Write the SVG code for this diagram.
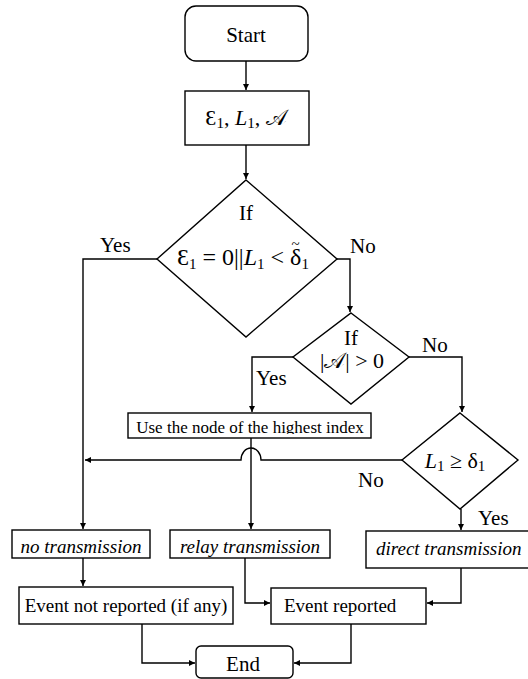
<svg xmlns="http://www.w3.org/2000/svg" width="528" height="679" viewBox="0 0 528 679">
<style>
.box{fill:#fff;stroke:#000;stroke-width:1.4}
.ln{fill:none;stroke:#000;stroke-width:1.4}
.t{font-family:"Liberation Serif","Times New Roman",serif;font-size:19px;fill:#000}
.lb{font-family:"Liberation Serif","Times New Roman",serif;font-size:21px;fill:#000}
.i{font-style:italic}
.m{font-family:"Liberation Serif","DejaVu Serif",serif;font-size:22px;fill:#000}
.mb{font-size:24px}
.s{font-size:15px}
</style>
<defs>
<marker id="ah" markerWidth="7" markerHeight="7" refX="6" refY="3" orient="auto" markerUnits="userSpaceOnUse">
<path d="M0,0 L6,3 L0,6 z" fill="#000"/>
</marker>
<clipPath id="clipUse"><rect x="128" y="413" width="243" height="21"/></clipPath>
</defs>

<g id="connectors">
<path class="ln" d="M246,61 V90" marker-end="url(#ah)"/>
<path class="ln" d="M246,145 V179" marker-end="url(#ah)"/>
<path class="ln" d="M157,259 H83 V529" marker-end="url(#ah)"/>
<path class="ln" d="M337,259 H350 V312" marker-end="url(#ah)"/>
<path class="ln" d="M409,357 H462 V412" marker-end="url(#ah)"/>
<path class="ln" d="M293,357 H252 V412" marker-end="url(#ah)"/>
<path class="ln" d="M251,438 V529" marker-end="url(#ah)"/>
<path class="ln" d="M402,460 H261 A10,12 0 0 0 241,460 H85" marker-end="url(#ah)"/>
<path class="ln" d="M461,509 V530" marker-end="url(#ah)"/>
<path class="ln" d="M83,558 V586" marker-end="url(#ah)"/>
<path class="ln" d="M245,558 V603 H270" marker-end="url(#ah)"/>
<path class="ln" d="M461,568 V603 H427" marker-end="url(#ah)"/>
<path class="ln" d="M142,624 V663 H195" marker-end="url(#ah)"/>
<path class="ln" d="M351,624 V663 H294" marker-end="url(#ah)"/>
</g>

<g id="labels">
<text class="lb" x="100" y="252">Yes</text>
<text class="lb" x="350" y="253">No</text>
<text class="lb" x="422" y="352">No</text>
<text class="lb" x="256" y="385">Yes</text>
<text class="lb" x="358" y="487">No</text>
<text class="lb" x="478" y="525">Yes</text>
</g>

<g id="start">
<rect class="box" x="185" y="6" width="123" height="55" rx="11"/>
<text class="lb" x="246" y="42" text-anchor="middle">Start</text>
</g>

<g id="inputs">
<rect class="box" x="185" y="91" width="124" height="54"/>
<text class="m" x="246" y="125" text-anchor="middle">Ɛ<tspan class="s" dy="3">1</tspan><tspan dy="-3">, </tspan><tspan class="i">L</tspan><tspan class="s" dy="3">1</tspan><tspan dy="-3">, 𝒜</tspan></text>
</g>

<g id="decision1">
<polygon class="box" points="246,180 337,259 246,337 157,259"/>
<text class="lb" x="246" y="220" text-anchor="middle">If</text>
<text class="m mb" x="243" y="265" text-anchor="middle">Ɛ<tspan class="s" dy="4">1</tspan><tspan dy="-4"> = 0||</tspan><tspan class="i">L</tspan><tspan class="s" dy="4">1</tspan><tspan dy="-4"> &lt; δ</tspan><tspan class="s" dx="-10" dy="-16">~</tspan><tspan class="s" dx="2" dy="20">1</tspan></text>
</g>

<g id="decision2">
<polygon class="box" points="351,313 409,357 351,404 293,357"/>
<text class="lb" x="351" y="345" text-anchor="middle">If</text>
<text class="m" x="352" y="368" text-anchor="middle">|𝒜| &gt; 0</text>
</g>

<g id="highest">
<rect class="box" x="128" y="413" width="243" height="25"/>
<text class="t" x="250" y="433" text-anchor="middle" style="font-size:17px" clip-path="url(#clipUse)">Use the node of the highest index</text>
</g>

<g id="decision3">
<polygon class="box" points="460,413 518,460 460,509 402,460"/>
<text class="m" x="455" y="468" text-anchor="middle"><tspan class="i">L</tspan><tspan class="s" dy="3">1</tspan><tspan dy="-3"> ≥ δ</tspan><tspan class="s" dy="3">1</tspan></text>
</g>

<g id="noTx">
<rect class="box" x="12" y="530" width="138" height="28"/>
<text class="t i" x="81" y="553" text-anchor="middle">no transmission</text>
</g>

<g id="relayTx">
<rect class="box" x="170" y="530" width="160" height="28"/>
<text class="t i" x="250" y="553" text-anchor="middle">relay transmission</text>
</g>

<g id="directTx">
<rect class="box" x="366" y="531" width="166" height="37"/>
<text class="t i" x="376" y="555">direct transmission</text>
</g>

<g id="notReported">
<rect class="box" x="19" y="587" width="214" height="37"/>
<text class="t" x="126" y="612" text-anchor="middle">Event not reported (if any)</text>
</g>

<g id="reported">
<rect class="box" x="271" y="588" width="155" height="36"/>
<text class="t" x="284" y="612">Event reported</text>
</g>

<g id="end">
<rect class="box" x="196" y="646" width="97" height="32" rx="5"/>
<text class="lb" x="243" y="671" text-anchor="middle">End</text>
</g>
</svg>
